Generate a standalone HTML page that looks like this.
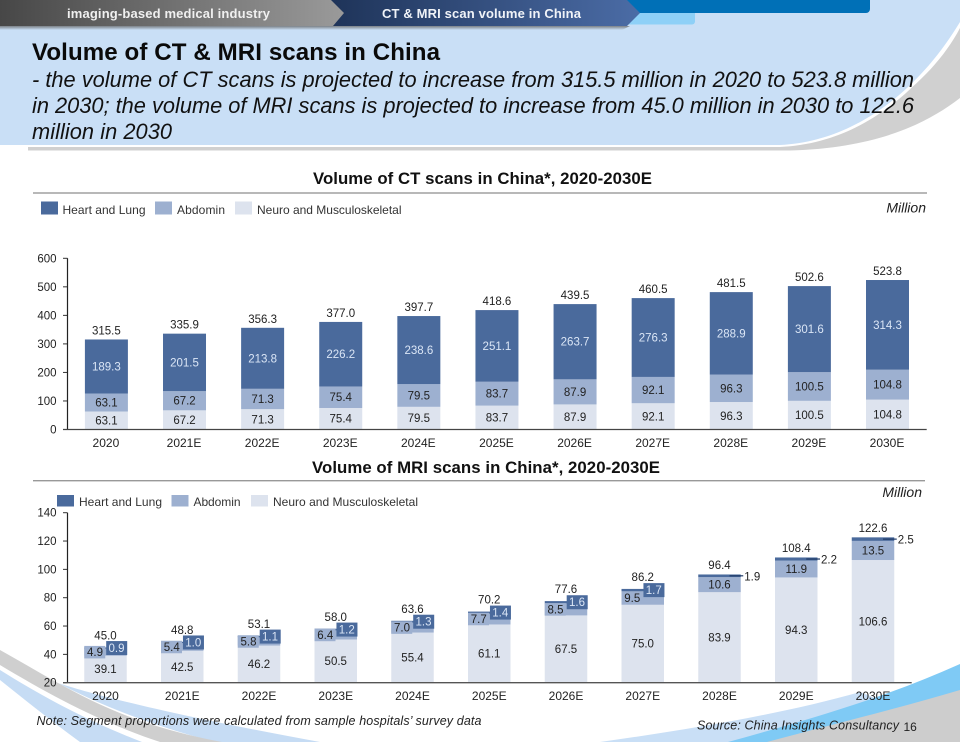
<!DOCTYPE html>
<html lang="en">
<head>
<meta charset="utf-8">
<title>Volume of CT &amp; MRI scans in China</title>
<style>
html,body{margin:0;padding:0;background:#fff}
svg{display:block;font-family:"Liberation Sans",Arial,sans-serif}
text{fill:#222}
</style>
</head>
<body>
<svg id="slide" width="960" height="742" viewBox="0 0 960 742" xmlns="http://www.w3.org/2000/svg">
<defs>
<linearGradient id="tabGray" x1="0" x2="1" y1="0" y2="0"><stop offset="0" stop-color="#474747"/><stop offset="1" stop-color="#9a9a9a"/></linearGradient>
<linearGradient id="tabBlue" x1="0" x2="1" y1="0" y2="0"><stop offset="0" stop-color="#1e3358"/><stop offset="1" stop-color="#4b6ca6"/></linearGradient>
<linearGradient id="tabShadow" x1="0" x2="0" y1="0" y2="1"><stop offset="0" stop-color="#7b8086"/><stop offset="1" stop-color="#c9dff6"/></linearGradient>
</defs>

<g>
<path fill="#d0d0d0" d="M28 143 H780 C860 138 930 85 960 28 V98 C925 125 875 148 790 150.500 H28 Z"/>
<path fill="#fff" d="M0 0 H960 V26 C925 85 865 143 780 147 H0 Z"/>
<path fill="#c9dff6" d="M0 0 H960 V22 C922 85 860 141 780 145 H0 Z"/>
<path fill="url(#tabShadow)" d="M0 26 H630 L622 30 H0 Z"/>
<path fill="#c6dcf4" d="M58 683 C110 700 210 722 320 742 H215 C150 725 100 705 58 683 Z"/>
<path fill="#cfcfcf" d="M0 650 C40 672 90 705 150 724 C175 732 200 738 222 742 H160 C100 722 50 695 0 665 Z"/>
<path fill="#c6dcf4" d="M0 670 C40 695 85 720 142 742 H80 C50 720 25 700 0 680 Z"/>
<path fill="#c9dff6" d="M600 742 C700 728 790 712 860 692 L880 700 L730 742 Z"/>
<path fill="#7fcaf5" d="M728 742 C800 722 880 700 960 664 V742 Z"/>
<path fill="#cdcdcd" d="M767 742 C830 725 900 708 960 690 V742 Z"/>
</g>

<g>
<rect x="625" y="10" width="70" height="14.500" rx="3" fill="#8ed0f7"/>
<rect x="620" y="-5" width="250" height="18" rx="4" fill="#0070b7"/>
<path fill="url(#tabBlue)" d="M328 0 H627 L640 13 L627 26 H328 Z"/>
<path fill="url(#tabGray)" d="M0 0 H331 L344 13 L333 26 H0 Z"/>
<text x="67" y="18" font-size="13" font-weight="bold" textLength="203" style="fill:#f0f0f0">imaging-based medical industry</text>
<text x="382" y="18" font-size="13" font-weight="bold" textLength="199" style="fill:#f0f3f8">CT &amp; MRI scan volume in China</text>
</g>

<g>
<text x="32" y="60" font-size="24.100" font-weight="bold" textLength="408" style="fill:#0a0a0a">Volume of CT &amp; MRI scans in China</text>
<text x="32" y="87" font-size="21.800" font-style="italic" textLength="882" style="fill:#111">- the volume of CT scans is projected to increase from 315.5 million in 2020 to 523.8 million</text>
<text x="32" y="113" font-size="21.800" font-style="italic" textLength="882" style="fill:#111">in 2030; the volume of MRI scans is projected to increase from 45.0 million in 2030 to 122.6</text>
<text x="32" y="139" font-size="21.800" font-style="italic" textLength="140" style="fill:#111">million in 2030</text>
</g>

<g id="ct-chart">
<text x="313" y="184" font-size="16.800" font-weight="bold" textLength="339" style="fill:#111">Volume of CT scans in China*, 2020-2030E</text>
<rect x="33" y="192.300" width="894" height="1.400" fill="#999"/>
<g>
<rect x="41" y="201.500" width="17" height="13" fill="#4a6a9c"/>
<text x="62.500" y="214" font-size="12" textLength="83" style="fill:#333">Heart and Lung</text>
<rect x="155" y="201.500" width="17" height="13" fill="#9db0d0"/>
<text x="177" y="214" font-size="12" textLength="48" style="fill:#333">Abdomin</text>
<rect x="235" y="201.500" width="17" height="13" fill="#dde3ee"/>
<text x="257" y="214" font-size="12" textLength="144.500" style="fill:#333">Neuro and Musculoskeletal</text>
</g>
<text x="926" y="212.500" font-size="14" font-style="italic" text-anchor="end">Million</text>
</g>

<g id="mri-chart">
<text x="312" y="473" font-size="16.800" font-weight="bold" textLength="348" style="fill:#111">Volume of MRI scans in China*, 2020-2030E</text>
<rect x="33" y="480" width="892" height="1.400" fill="#999"/>
<g>
<rect x="57" y="495" width="17" height="11.500" fill="#4a6a9c"/>
<text x="79" y="506" font-size="12" textLength="83" style="fill:#333">Heart and Lung</text>
<rect x="171.500" y="495" width="17" height="11.500" fill="#9db0d0"/>
<text x="193.500" y="506" font-size="12" textLength="47" style="fill:#333">Abdomin</text>
<rect x="251" y="495" width="17" height="11.500" fill="#dde3ee"/>
<text x="273" y="506" font-size="12" textLength="145" style="fill:#333">Neuro and Musculoskeletal</text>
</g>
<text x="922" y="497" font-size="14" font-style="italic" text-anchor="end">Million</text>
</g>

<g>
<text x="36.500" y="725" font-size="12.500" font-style="italic" textLength="445">Note: Segment proportions were calculated from sample hospitals’ survey data</text>
<text x="697" y="729.500" font-size="12.500" font-style="italic" textLength="202">Source: China Insights Consultancy</text>
<text x="903.500" y="731" font-size="12">16</text>
</g>
</svg>

<script>
const years = ['2020','2021E','2022E','2023E','2024E','2025E','2026E','2027E','2028E','2029E','2030E'];

const ctTicks = [0,100,200,300,400,500,600];
const ctNeuro = [63.1,67.2,71.3,75.4,79.5,83.7,87.9,92.1,96.3,100.5,104.8];
const ctAbdomin = [63.1,67.2,71.3,75.4,79.5,83.7,87.9,92.1,96.3,100.5,104.8];
const ctHeartLung = [189.3,201.5,213.8,226.2,238.6,251.1,263.7,276.3,288.9,301.6,314.3];
const ctTotals = [315.5,335.9,356.3,377.0,397.7,418.6,439.5,460.5,481.5,502.6,523.8];

const mriTicks = [20,40,60,80,100,120,140];
const mriNeuro = [39.1,42.5,46.2,50.5,55.4,61.1,67.5,75.0,83.9,94.3,106.6];
const mriAbdomin = [4.9,5.4,5.8,6.4,7.0,7.7,8.5,9.5,10.6,11.9,13.5];
const mriHeartLung = [0.9,1.0,1.1,1.2,1.3,1.4,1.6,1.7,1.9,2.2,2.5];
const mriTotals = [45.0,48.8,53.1,58.0,63.6,70.2,77.6,86.2,96.4,108.4,122.6];

const COLORS = {heart:'#4a6a9c', abd:'#9db0d0', neuro:'#dde3ee', heartText:'#dbe6f6', text:'#222'};
const NS = 'http://www.w3.org/2000/svg';

function mk(parent, tag, attrs, content){
  const el = document.createElementNS(NS, tag);
  for (const k in attrs) el.setAttribute(k, attrs[k]);
  if (content !== undefined) el.textContent = content;
  parent.appendChild(el);
  return el;
}
function fmt(v){ return v.toFixed(1); }

/* ---------- CT chart ---------- */
const ctRoot = document.getElementById('ct-chart');
const ctX = i => 106.4 + 78.11 * i;
const ctY = v => 429.5 - (v - 0) * (171.2 / 600);
const ctBarW = 43;

ctTicks.forEach(t => {
  const tick = mk(ctRoot, 'line', {x1:63, x2:67.5, y1:ctY(t), y2:ctY(t), stroke:'#333', 'stroke-width':1});
  
  
  const label = mk(ctRoot, 'text', {x:56.5, y:ctY(t)+4, 'font-size':11.5, 'text-anchor':'end'}, String(t));
  
  
});

years.forEach((yr, i) => {
  const cx = ctX(i), x = cx - ctBarW / 2;
  const a = ctNeuro[i], b = a + ctAbdomin[i], c = b + ctHeartLung[i];

  const neuro = mk(ctRoot, 'rect', {x:x, y:ctY(a), width:ctBarW, height:ctY(0)-ctY(a), fill:COLORS.neuro});
  
  

  const abd = mk(ctRoot, 'rect', {x:x, y:ctY(b), width:ctBarW, height:ctY(a)-ctY(b), fill:COLORS.abd});
  
  

  const heart = mk(ctRoot, 'rect', {x:x, y:ctY(c), width:ctBarW, height:ctY(b)-ctY(c), fill:COLORS.heart});
  
  

  const t1 = mk(ctRoot, 'text', {x:cx, y:ctY(a/2)+4, 'font-size':11.5, 'text-anchor':'middle'}, fmt(ctNeuro[i]));
  
  

  const t2 = mk(ctRoot, 'text', {x:cx, y:ctY((a+b)/2)+4, 'font-size':11.5, 'text-anchor':'middle'}, fmt(ctAbdomin[i]));
  
  

  const t3 = mk(ctRoot, 'text', {x:cx, y:ctY((b+c)/2)+4, 'font-size':11.5, 'text-anchor':'middle', style:'fill:'+COLORS.heartText}, fmt(ctHeartLung[i]));
  
  

  const t4 = mk(ctRoot, 'text', {x:cx, y:ctY(ctTotals[i])-5, 'font-size':11.5, 'text-anchor':'middle'}, fmt(ctTotals[i]));
  
  

  const xl = mk(ctRoot, 'text', {x:cx-0.5, y:447, 'font-size':12, 'text-anchor':'middle'}, yr);
  
  
});

const ctYAxis = mk(ctRoot, 'line', {x1:67.5, x2:67.5, y1:ctY(600), y2:ctY(0), stroke:'#222', 'stroke-width':1.2});


const ctXAxis = mk(ctRoot, 'line', {x1:63, x2:926.7, y1:ctY(0), y2:ctY(0), stroke:'#444', 'stroke-width':1.2});



/* ---------- MRI chart ---------- */
const mriRoot = document.getElementById('mri-chart');
const mriX = i => 105.5 + 76.75 * i;
const mriY = v => 682.7 - (Math.max(v, 20) - 20) * (170 / 120);
const mriBarW = 42.5;
const OUTSIDE_FROM = 1.9;

mriTicks.forEach(t => {
  const tick = mk(mriRoot, 'line', {x1:63, x2:67.5, y1:mriY(t), y2:mriY(t), stroke:'#333', 'stroke-width':1});
  
  
  const label = mk(mriRoot, 'text', {x:56.5, y:mriY(t)+4, 'font-size':11.5, 'text-anchor':'end'}, String(t));
  
  
});

years.forEach((yr, i) => {
  const cx = mriX(i), x = cx - mriBarW / 2;
  const a = mriNeuro[i], b = a + mriAbdomin[i], c = b + mriHeartLung[i];
  const outside = mriHeartLung[i] >= OUTSIDE_FROM;

  const neuro = mk(mriRoot, 'rect', {x:x, y:mriY(a), width:mriBarW, height:mriY(20)-mriY(a), fill:COLORS.neuro});
  
  

  const abd = mk(mriRoot, 'rect', {x:x, y:mriY(b), width:mriBarW, height:mriY(a)-mriY(b), fill:COLORS.abd});
  
  

  const heart = mk(mriRoot, 'rect', {x:x, y:mriY(c), width:mriBarW, height:mriY(b)-mriY(c), fill:COLORS.heart});
  
  

  const t1 = mk(mriRoot, 'text', {x:cx, y:mriY((a+20)/2)+4, 'font-size':11.5, 'text-anchor':'middle'}, fmt(mriNeuro[i]));
  
  

  const abdMid = mriY((a+b)/2);
  if (outside) {
    const t2 = mk(mriRoot, 'text', {x:cx, y:abdMid+4, 'font-size':11.5, 'text-anchor':'middle'}, fmt(mriAbdomin[i]));
    
    

    const hMid = mriY((b+c)/2);
    const lead = mk(mriRoot, 'line', {x1:cx+10, x2:x+mriBarW+2.5, y1:hMid, y2:hMid, stroke:'#1f3a66', 'stroke-width':1.2});
    
    

    const t3 = mk(mriRoot, 'text', {x:x+mriBarW+3.5, y:hMid+4.5, 'font-size':11.5}, fmt(mriHeartLung[i]));
    
    
  } else {
    const abox = mk(mriRoot, 'rect', {x:x, y:abdMid-6.25, width:21, height:12.5, fill:COLORS.abd});
    
    

    const t2 = mk(mriRoot, 'text', {x:cx-10.5, y:abdMid+4, 'font-size':11.5, 'text-anchor':'middle'}, fmt(mriAbdomin[i]));
    
    

    const hMid = mriY((b+c)/2);
    const hbox = mk(mriRoot, 'rect', {x:cx+0.7, y:hMid-7, width:21, height:14, fill:COLORS.heart});
    
    

    const t3 = mk(mriRoot, 'text', {x:cx+11, y:hMid+4, 'font-size':11.5, 'text-anchor':'middle', style:'fill:'+COLORS.heartText}, fmt(mriHeartLung[i]));
    
    
  }

  const t4 = mk(mriRoot, 'text', {x:cx, y:mriY(mriTotals[i])-(outside ? 5.4 : 8), 'font-size':11.5, 'text-anchor':'middle'}, fmt(mriTotals[i]));
  
  

  const xl = mk(mriRoot, 'text', {x:cx, y:700, 'font-size':12, 'text-anchor':'middle'}, yr);
  
  
});

const mriYAxis = mk(mriRoot, 'line', {x1:67.5, x2:67.5, y1:mriY(140), y2:mriY(20), stroke:'#222', 'stroke-width':1.2});


const mriXAxis = mk(mriRoot, 'line', {x1:63, x2:911.7, y1:mriY(20), y2:mriY(20), stroke:'#555', 'stroke-width':1.4});


</script>
</body>
</html>
